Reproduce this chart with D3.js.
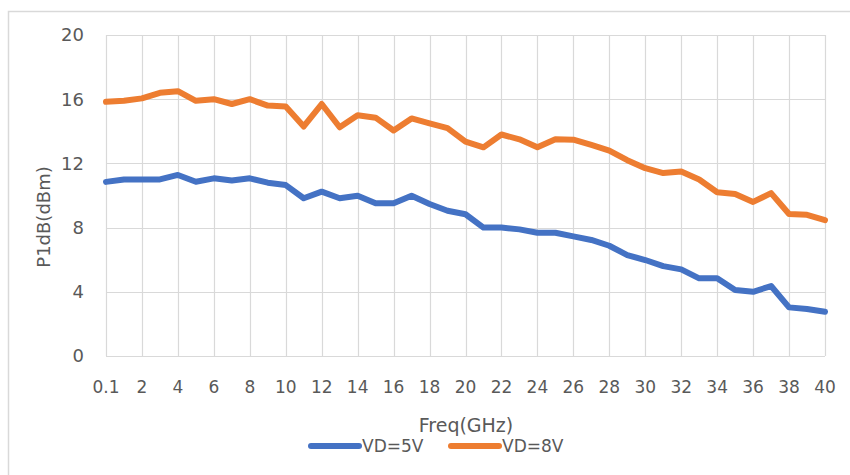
<!DOCTYPE html>
<html>
<head>
<meta charset="utf-8">
<script src="https://cdn.jsdelivr.net/npm/d3@7"></script>
<style>
  body { margin: 0; background: #fff; }
  text { font-family: "DejaVu Sans", sans-serif; fill: #595959; }
</style>
</head>
<body>
<script>
var freqs = ["0.1", "1", "2", "3", "4", "5", "6", "7", "8", "9", "10",
  "11", "12", "13", "14", "15", "16", "17", "18", "19", "20",
  "21", "22", "23", "24", "25", "26", "27", "28", "29", "30",
  "31", "32", "33", "34", "35", "36", "37", "38", "39", "40"];

var vd5 = [10.85, 11.0, 11.0, 11.0, 11.28, 10.86, 11.07, 10.93, 11.07, 10.8, 10.65,
  9.83, 10.24, 9.83, 9.99, 9.51, 9.51, 9.99, 9.47, 9.05, 8.83,
  8.0, 8.0, 7.89, 7.68, 7.68, 7.45, 7.23, 6.87, 6.29, 5.98,
  5.6, 5.4, 4.84, 4.84, 4.11, 4.0, 4.36, 3.03, 2.93, 2.76];

var vd8 = [15.84, 15.9, 16.05, 16.4, 16.5, 15.9, 16.0, 15.7, 16.0, 15.6, 15.55,
  14.3, 15.7, 14.25, 15.0, 14.85, 14.05, 14.8, 14.5, 14.2, 13.35,
  13.0, 13.8, 13.5, 13.0, 13.5, 13.48, 13.15, 12.8, 12.2, 11.7,
  11.4, 11.5, 11.0, 10.2, 10.1, 9.6, 10.15, 8.85, 8.8, 8.47];

var yTicks = [0, 4, 8, 12, 16, 20];
var seriesNames = ["VD=5V", "VD=8V"];
var colors = ["#4472C4", "#ED7D31"];

var width = 850, height = 475;
var margin = { top: 35, right: 25, bottom: 119, left: 106 };

var svg = d3.select("body").append("svg")
  .attr("width", width)
  .attr("height", height);

// chart area border
svg.append("rect")
  .attr("x", 8.5)
  .attr("y", 11.5)
  .attr("width", 860)
  .attr("height", 500)
  .attr("fill", "none")
  .attr("stroke", "#d9d9d9")
  .attr("stroke-width", 1.5);

var xScale = d3.scalePoint()
  .domain(freqs)
  .range([margin.left, width - margin.right]);

var yScale = d3.scaleLinear()
  .domain([0, 20])
  .range([height - margin.bottom, margin.top]);

// horizontal gridlines
svg.append("g")
  .selectAll("line")
  .data(yTicks)
  .enter()
  .append("line")
  .attr("x1", margin.left)
  .attr("x2", width - margin.right)
  .attr("y1", d => Math.round(yScale(d)) + 0.5)
  .attr("y2", d => Math.round(yScale(d)) + 0.5)
  .attr("stroke", "#d9d9d9")
  .attr("stroke-width", 1.2);

// vertical gridlines every 2nd category
var labelled = freqs.filter((d, i) => i % 2 == 0);

svg.append("g")
  .selectAll("line")
  .data(labelled)
  .enter()
  .append("line")
  .attr("x1", d => Math.round(xScale(d)) + 0.5)
  .attr("x2", d => Math.round(xScale(d)) + 0.5)
  .attr("y1", yScale(20))
  .attr("y2", yScale(0))
  .attr("stroke", "#d9d9d9")
  .attr("stroke-width", 1.2);

// y axis labels
svg.append("g")
  .selectAll("text")
  .data(yTicks)
  .enter()
  .append("text")
  .attr("x", 84)
  .attr("y", d => yScale(d))
  .attr("dy", "0.36em")
  .style("text-anchor", "end")
  .style("font-size", "18px")
  .text(d => d);

// x axis labels
svg.append("g")
  .selectAll("text")
  .data(labelled)
  .enter()
  .append("text")
  .attr("x", d => xScale(d))
  .attr("y", 393)
  .style("text-anchor", "middle")
  .style("font-size", "17px")
  .text(d => d);

// axis titles
svg.append("text")
  .attr("x", 466)
  .attr("y", 432)
  .style("text-anchor", "middle")
  .style("font-size", "19px")
  .text("Freq(GHz)");

svg.append("text")
  .attr("transform", "translate(50,217) rotate(-90)")
  .style("text-anchor", "middle")
  .style("font-size", "18px")
  .text("P1dB(dBm)");

// lines
var line = d3.line()
  .x((d, i) => xScale(freqs[i]))
  .y(d => yScale(d));

[vd5, vd8].forEach(function (series, k) {
  svg.append("path")
    .datum(series)
    .attr("d", line)
    .attr("fill", "none")
    .attr("stroke", colors[k])
    .attr("stroke-width", 6)
    .attr("stroke-linejoin", "round")
    .attr("stroke-linecap", "round");
});

// legend
var legendX = [308, 448];
seriesNames.forEach(function (name, k) {
  svg.append("line")
    .attr("x1", legendX[k] + 3)
    .attr("x2", legendX[k] + 51)
    .attr("y1", 446)
    .attr("y2", 446)
    .attr("stroke", colors[k])
    .attr("stroke-width", 6)
    .attr("stroke-linecap", "round");
  svg.append("text")
    .attr("x", legendX[k] + 54)
    .attr("y", 452)
    .style("font-size", "17px")
    .text(name);
});
</script>
</body>
</html>
